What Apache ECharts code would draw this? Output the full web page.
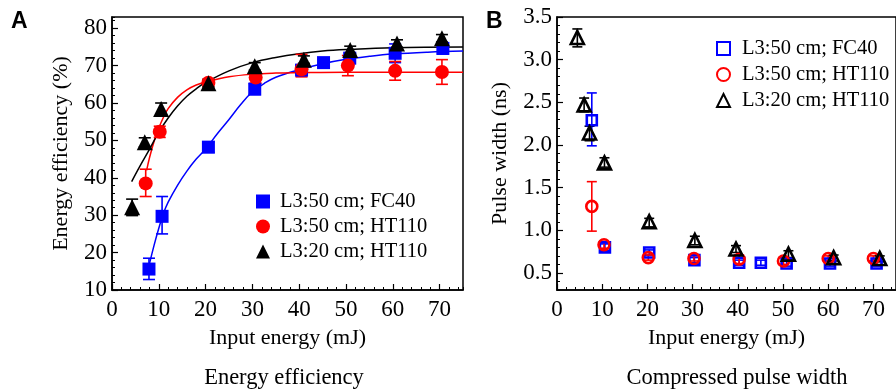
<!DOCTYPE html>
<html>
<head>
<meta charset="utf-8">
<script src="https://cdn.jsdelivr.net/npm/echarts@6/dist/echarts.min.js"></script>
<style>html,body{margin:0;padding:0;background:#fff;}#c{width:896px;height:389px;}</style>
</head>
<body>
<div id="c"></div>
<script>
// ---------- Panel A: energy efficiency (%) ----------
const seriesNames = ['L3:50 cm; FC40', 'L3:50 cm; HT110', 'L3:20 cm; HT110'];

const aX_FC40  = [7.9, 10.7, 20.6, 30.5, 40.5, 45.2, 50.8, 60.5, 70.7];
const aY_FC40  = [15.6, 29.7, 48.2, 63.7, 68.8, 70.8, 72.0, 73.3, 74.6];
const aLo_FC40 = [12.8, 25.0, 46.8, 62.3, 67.8, 70.0, 70.6, 70.8, 73.1];
const aHi_FC40 = [18.5, 35.0, 49.6, 65.2, 69.8, 71.6, 73.4, 75.8, 76.1];

const aX_HT50  = [7.2, 10.2, 20.6, 30.7, 40.5, 50.4, 60.5, 70.5];
const aY_HT50  = [38.5, 52.3, 65.4, 66.8, 69.0, 70.0, 68.6, 68.3];
const aLo_HT50 = [35.0, 50.8, 64.4, 65.3, 67.0, 67.3, 66.1, 65.0];
const aHi_HT50 = [42.3, 53.8, 66.4, 68.3, 73.0, 72.7, 71.1, 71.6];

const aX_HT20  = [4.3, 7.0, 10.5, 20.6, 30.5, 41.0, 50.9, 60.9, 70.5];
const aY_HT20  = [32.1, 49.5, 58.4, 65.3, 69.8, 71.6, 74.2, 75.9, 77.3];
const aLo_HT20 = [29.9, 48.3, 56.8, 64.3, 68.8, 70.6, 73.2, 74.9, 76.3];
const aHi_HT20 = [34.3, 50.7, 60.0, 66.3, 70.8, 72.6, 75.2, 76.9, 78.3];

// fitted curves
const fitX_FC40 = [8, 9, 10, 11, 12, 14, 16, 18, 20, 22.5, 25, 27.5, 30, 32.5, 35, 40, 45, 50, 55, 60, 67.5, 75];
const fitY_FC40 = [17.0, 22.0, 26.5, 30.5, 33.5, 38.0, 41.8, 45.0, 47.7, 51.8, 55.6, 59.6, 63.0, 65.2, 66.9, 68.9, 70.5, 71.7, 72.5, 73.1, 73.6, 73.9];
const fitX_HT50 = [7.4, 8, 9, 10, 11, 12, 14, 16, 18, 20, 25, 30, 35, 40, 50, 60, 75];
const fitY_HT50 = [42.0, 45.3, 49.8, 53.3, 56.2, 58.5, 61.5, 63.5, 64.8, 65.6, 67.0, 67.7, 68.0, 68.1, 68.2, 68.2, 68.2];
const fitX_HT20 = [4.2, 6, 8, 10, 12, 14, 16, 18, 20, 25, 30, 35, 40, 45, 50, 60, 75];
const fitY_HT20 = [39.0, 43.2, 47.6, 52.2, 56.0, 59.2, 61.8, 63.8, 65.5, 68.6, 70.8, 72.2, 73.2, 73.9, 74.3, 74.8, 75.0];

// ---------- Panel B: pulse width (ns) ----------
const bX_FC40  = [7.7, 10.6, 20.4, 30.4, 40.3, 45.1, 50.8, 60.4, 70.7];
const bY_FC40  = [2.29, 0.80, 0.74, 0.65, 0.62, 0.62, 0.61, 0.61, 0.61];
const bLo_FC40 = [1.99, 0.76, 0.71, 0.62, 0.59, 0.59, 0.58, 0.58, 0.58];
const bHi_FC40 = [2.61, 0.84, 0.77, 0.68, 0.65, 0.65, 0.64, 0.64, 0.64];

const bX_HT50  = [7.7, 10.4, 20.2, 30.3, 40.3, 50.1, 60.0, 70.0];
const bY_HT50  = [1.28, 0.83, 0.68, 0.67, 0.66, 0.64, 0.67, 0.67];
const bLo_HT50 = [0.99, 0.79, 0.65, 0.64, 0.61, 0.60, 0.64, 0.64];
const bHi_HT50 = [1.57, 0.87, 0.71, 0.70, 0.71, 0.68, 0.70, 0.70];

const bX_HT20  = [4.5, 6.0, 7.2, 10.5, 20.4, 30.5, 39.6, 51.2, 61.2, 71.4];
const bY_HT20  = [3.26, 2.47, 2.14, 1.79, 1.10, 0.88, 0.78, 0.72, 0.68, 0.67];
const bLo_HT20 = [3.15, 2.39, 2.05, 1.74, 1.04, 0.83, 0.74, 0.68, 0.64, 0.63];
const bHi_HT20 = [3.36, 2.55, 2.22, 1.85, 1.14, 0.93, 0.82, 0.76, 0.71, 0.70];

// tick labels
const xTicks  = [0, 10, 20, 30, 40, 50, 60, 70];
const aYTicks = [10, 20, 30, 40, 50, 60, 70, 80];
const bYTicks = [0.5, 1.0, 1.5, 2.0, 2.5, 3.0, 3.5];

const BLUE = '#0000ff', RED = '#ff0000', BLACK = '#000000';
const SERIF = '"Liberation Serif", "Times New Roman", serif';
const SANS = '"Liberation Sans", Arial, sans-serif';

const zip = (xs, ys) => xs.map((x, i) => [x, ys[i]]);

function mainAxis(type, gridIndex, min, max, ticks, name, nameGap, fmt) {
  return {
    type: 'value', gridIndex, min, max,
    position: type === 'x' ? 'bottom' : 'left',
    name, nameLocation: 'middle', nameGap,
    nameTextStyle: { fontFamily: SERIF, fontSize: 22, color: '#000' },
    axisLine: { show: true, lineStyle: { color: '#000', width: 1.5 } },
    axisTick: { show: true, inside: true, length: 6, customValues: ticks, lineStyle: { color: '#000', width: 1.2 } },
    axisLabel: { customValues: ticks, fontFamily: SERIF, fontSize: 23, color: '#000', margin: type === 'x' ? 8 : 5,
                 formatter: fmt || (v => String(v)) },
    splitLine: { show: false },
  };
}
function minorAxis(type, gridIndex, min, max, interval) {
  return {
    type: 'value', gridIndex, min, max, interval,
    position: type === 'x' ? 'bottom' : 'left',
    axisLine: { show: false },
    axisTick: { show: true, inside: true, length: 3, lineStyle: { color: '#000', width: 1 } },
    axisLabel: { show: false },
    splitLine: { show: false },
  };
}

function errSeries(xs, lo, hi, color, xi, yi, cap) {
  return {
    type: 'custom', xAxisIndex: xi, yAxisIndex: yi, silent: true, z: 2,
    data: xs.map((x, i) => [x, lo[i], hi[i]]),
    renderItem: (params, api) => {
      const p1 = api.coord([api.value(0), api.value(1)]);
      const p2 = api.coord([api.value(0), api.value(2)]);
      const st = { stroke: color, lineWidth: 1.6 };
      return { type: 'group', children: [
        { type: 'line', shape: { x1: p1[0], y1: p1[1], x2: p2[0], y2: p2[1] }, style: st },
        { type: 'line', shape: { x1: p1[0] - cap, y1: p1[1], x2: p1[0] + cap, y2: p1[1] }, style: st },
        { type: 'line', shape: { x1: p2[0] - cap, y1: p2[1], x2: p2[0] + cap, y2: p2[1] }, style: st },
      ]};
    }
  };
}
function fitSeries(xs, ys, color) {
  return { type: 'line', xAxisIndex: 0, yAxisIndex: 0, data: zip(xs, ys), smooth: 0.4,
           showSymbol: false, symbol: 'none', silent: true, z: 1,
           lineStyle: { color, width: 1.5 } };
}
function scatterA(name, xs, ys, color, symbol, size) {
  return { type: 'scatter', name, xAxisIndex: 0, yAxisIndex: 0, data: zip(xs, ys),
           symbol, symbolSize: size, z: 3, itemStyle: { color, opacity: 1 } };
}
function scatterB(name, xs, ys, color, symbol, size) {
  return { type: 'scatter', name: name + ' ', xAxisIndex: 2, yAxisIndex: 2, data: zip(xs, ys),
           symbol, symbolSize: size, z: 3,
           itemStyle: { color: 'rgba(255,255,255,0)', borderColor: color, borderWidth: 2.6, opacity: 1 } };
}

const chart = echarts.init(document.getElementById('c'));
chart.setOption({
  animation: false,
  backgroundColor: '#fff',
  grid: [
    { left: 112, top: 17, width: 351, height: 273, show: true, borderColor: '#000', borderWidth: 1.5, containLabel: false },
    { left: 557, top: 17, width: 351, height: 273, show: true, borderColor: '#000', borderWidth: 1.5, containLabel: false },
  ],
  xAxis: [
    mainAxis('x', 0, 0, 75, xTicks, 'Input energy (mJ)', 37),
    minorAxis('x', 0, 0, 75, 2),
    mainAxis('x', 1, 0, 75, xTicks, 'Input energy (mJ)', 37),
    minorAxis('x', 1, 0, 75, 2),
  ],
  yAxis: [
    mainAxis('y', 0, 10, 83, aYTicks, 'Energy efficiency (%)', 40),
    minorAxis('y', 0, 10, 83, 2),
    mainAxis('y', 1, 0.3, 3.5, bYTicks, 'Pulse width (ns)', 46, v => v.toFixed(1)),
    minorAxis('y', 1, 0.3, 3.5, 0.1),
  ],
  legend: [
    { orient: 'vertical', left: 251, top: 186, itemWidth: 14, itemHeight: 14, itemGap: 4,
      data: seriesNames, textStyle: { fontFamily: SERIF, fontSize: 20.5, color: '#000', padding: [0, 0, 0, 5] } },
    { orient: 'vertical', left: 711, top: 33, itemWidth: 13, itemHeight: 13, itemGap: 5,
      data: seriesNames.map(n => n + ' '), textStyle: { fontFamily: SERIF, fontSize: 20.5, color: '#000', padding: [0, 0, 0, 7] } },
  ],
  title: [
    { text: 'Energy efficiency', left: 279, top: 362, textAlign: 'center',
      textStyle: { fontFamily: SERIF, fontSize: 22.5, fontWeight: 'normal', color: '#000' } },
    { text: 'Compressed pulse width', left: 732, top: 362, textAlign: 'center',
      textStyle: { fontFamily: SERIF, fontSize: 22.5, fontWeight: 'normal', color: '#000' } },
    { text: 'A', left: 11, top: 10, padding: 0, textStyle: { fontFamily: SANS, fontSize: 23, fontWeight: 'bold', color: '#000' } },
    { text: 'B', left: 486, top: 10, padding: 0, textStyle: { fontFamily: SANS, fontSize: 23, fontWeight: 'bold', color: '#000' } },
  ],
  series: [
    fitSeries(fitX_FC40, fitY_FC40, BLUE),
    fitSeries(fitX_HT50, fitY_HT50, RED),
    fitSeries(fitX_HT20, fitY_HT20, BLACK),
    errSeries(aX_FC40, aLo_FC40, aHi_FC40, BLUE, 0, 0, 6),
    errSeries(aX_HT50, aLo_HT50, aHi_HT50, RED, 0, 0, 6),
    errSeries(aX_HT20, aLo_HT20, aHi_HT20, BLACK, 0, 0, 6),
    scatterA(seriesNames[0], aX_FC40, aY_FC40, BLUE, 'rect', 13),
    scatterA(seriesNames[1], aX_HT50, aY_HT50, RED, 'circle', 14),
    scatterA(seriesNames[2], aX_HT20, aY_HT20, BLACK, 'triangle', 16),
    errSeries(bX_FC40, bLo_FC40, bHi_FC40, BLUE, 2, 2, 5),
    errSeries(bX_HT50, bLo_HT50, bHi_HT50, RED, 2, 2, 5),
    errSeries(bX_HT20, bLo_HT20, bHi_HT20, BLACK, 2, 2, 5),
    scatterB(seriesNames[0], bX_FC40, bY_FC40, BLUE, 'rect', 10),
    scatterB(seriesNames[1], bX_HT50, bY_HT50, RED, 'circle', 11),
    scatterB(seriesNames[2], bX_HT20, bY_HT20, BLACK, 'triangle', 13),
  ]
});
</script>
</body>
</html>
